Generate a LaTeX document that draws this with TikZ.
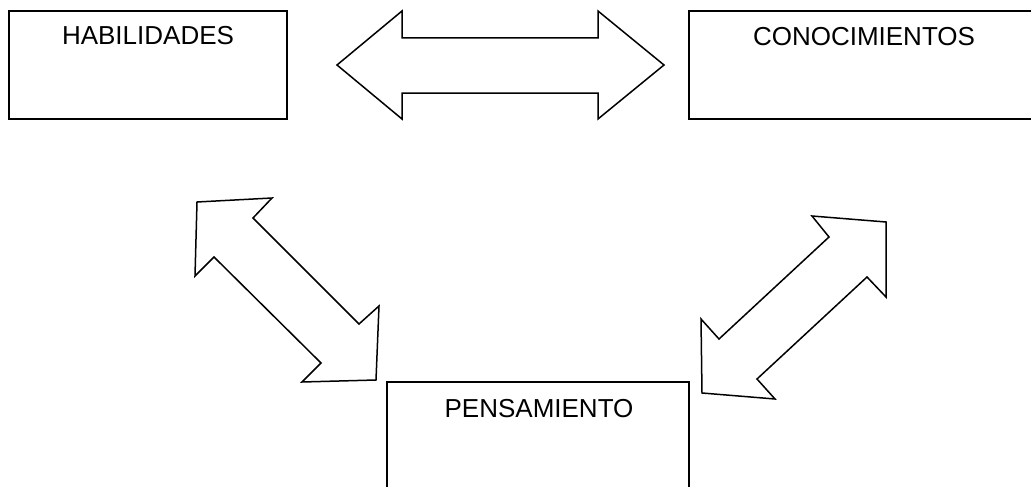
\documentclass[tikz,border=0pt]{standalone}
\usepackage{fontspec}
\setmainfont{Liberation Sans}
\begin{document}
\begin{tikzpicture}[x=1pt,y=-1pt,
  box/.style={draw=black,line width=1.5pt,fill=white,inner sep=0pt,outer sep=0pt},
  lbl/.style={anchor=base,inner sep=0pt,font=\fontsize{26}{30}\selectfont},
  blockarrow/.style={draw=black,line width=1.5pt,line join=miter,fill=white}]
\useasboundingbox (0,0) rectangle (1031,487);
\fill[white] (0,0) rectangle (1031,487);
% boxes
\node[box,minimum width=278pt,minimum height=108pt] (hab) at (148,65) {};
\node[box,minimum width=352pt,minimum height=108pt] (con) at (865,65) {};
\node[box,minimum width=302pt,minimum height=130pt] (pen) at (538,447) {};
% labels
\node[lbl] (habt) at (148,45) {HABILIDADES};
\node[lbl] (cont) at (864,46) {CONOCIMIENTOS};
\node[lbl] (pent) at (539,417) {PENSAMIENTO};
% horizontal double arrow
\draw[blockarrow] (337,65) -- (402,11) -- (402,38) -- (598,38) -- (598,11) -- (664,65)
  -- (598,119) -- (598,93) -- (402,93) -- (402,119) -- cycle;
% left diagonal double arrow
\draw[blockarrow] (197,202) -- (272,198) -- (253,218) -- (359,324) -- (379,306) -- (376,380)
  -- (302,382) -- (321,363) -- (214,257) -- (195,276) -- cycle;
% right diagonal double arrow
\draw[blockarrow] (886,222) -- (812,216) -- (829,237) -- (719,339) -- (701,319) -- (702,393)
  -- (775,399) -- (757,379) -- (867,277) -- (886,297) -- cycle;
\end{tikzpicture}
\end{document}
